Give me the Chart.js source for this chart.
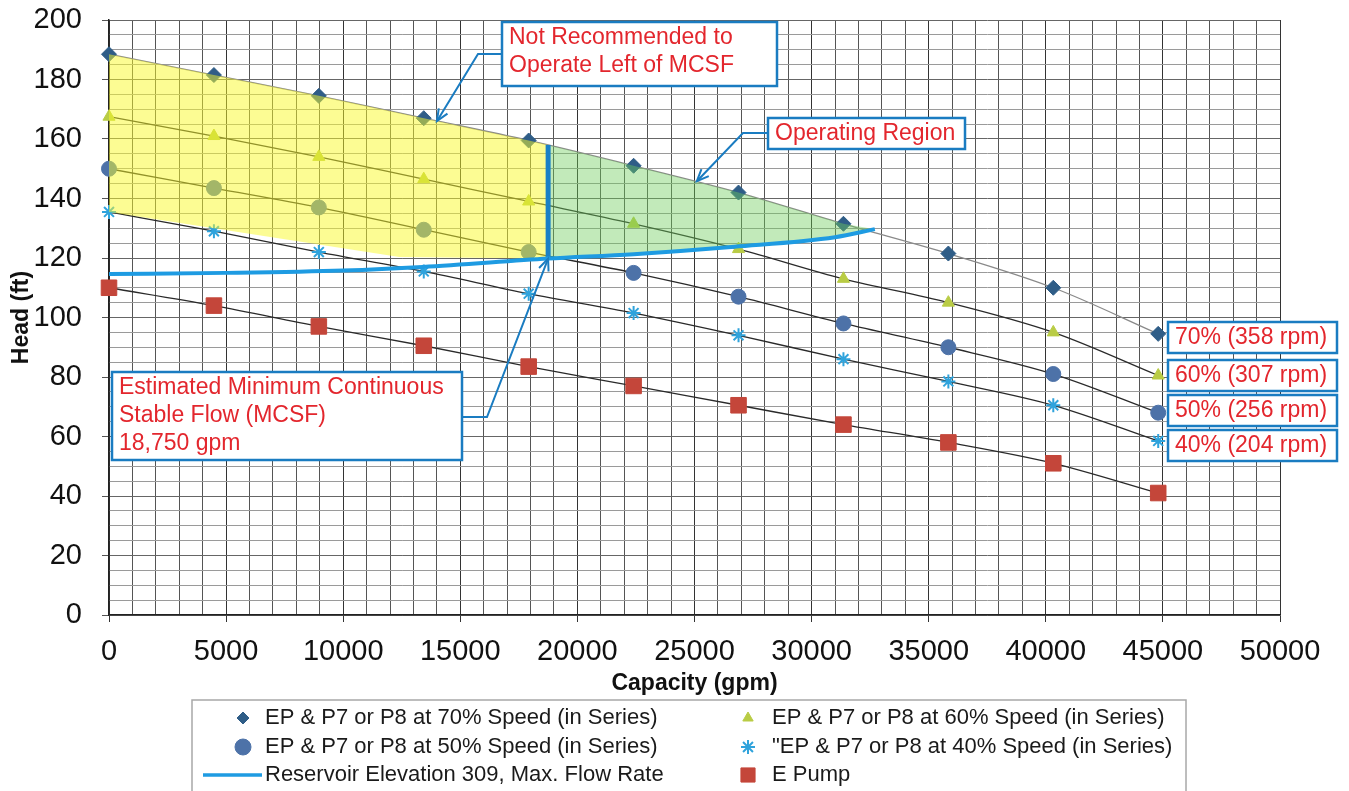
<!DOCTYPE html>
<html>
<head>
<meta charset="utf-8">
<script src="https://cdn.jsdelivr.net/npm/chart.js@4.4.1/dist/chart.umd.min.js"></script>
<style>
  html, body { margin: 0; padding: 0; background: #fff; }
  #wrap { position: relative; width: 1349px; height: 791px; }
</style>
</head>
<body>
<div id="wrap"><canvas id="chart" width="1349" height="791"></canvas></div>
<script>
// capacity points (gpm) shared by all pump curves
const capacity = [0, 4480, 8960, 13440, 17920, 22400, 26880, 31360, 35840, 40320, 44800];
const head70 = [188.5, 181.5, 174.5, 167, 159.5, 151, 142, 131.5, 121.5, 110, 94.5];
const head60 = [167.5, 161, 154, 146.5, 139, 131.5, 123, 113, 105, 95, 80.5];
const head50 = [150, 143.5, 137, 129.5, 122, 115, 107, 98, 90, 81, 68];
const head40 = [135.5, 129, 122, 115.5, 108, 101.5, 94, 86, 78.5, 70.5, 58.5];
const headE = [110, 104, 97, 90.5, 83.5, 77, 70.5, 64, 58, 51, 41];

// reservoir elevation 309 max flow rate curve
const resGpm = [0, 5000, 10000, 13400, 18750, 22400, 26700, 31000, 32700];
const resHead = [114.6, 115, 115.8, 117, 119.8, 121.3, 123.8, 127, 129.7];

// MCSF and shaded regions
const mcsf = 18750;
const mcsfHead = [119.8, 158];
const yellowTopGpm = [0, 4480, 8960, 13440, 17920, 18750];
const yellowTopHead = [188.5, 181.5, 174.5, 167, 159.5, 158];
const yellowBotGpm = [0, 12400, 18750];
const yellowBotHead = [135.5, 120.3, 119.8];
const greenTopGpm = [18750, 22400, 26880, 31360, 32700];
const greenTopHead = [158, 151, 142, 131.5, 129.7];

const labels70 = "EP & P7 or P8 at 70% Speed (in Series)";
const labels60 = "EP & P7 or P8 at 60% Speed (in Series)";
const labels50 = "EP & P7 or P8 at 50% Speed (in Series)";
const labels40 = "\"EP & P7 or P8 at 40% Speed (in Series)";
const labelRes = "Reservoir Elevation 309, Max. Flow Rate";
const labelE = "E Pump";

const xTicks = { min: 0, max: 50000, step: 1000, major: 5000 };
const yTicks = { min: 0, max: 200, step: 5, major: 20 };

function pts(xs, ys) { return xs.map((v, i) => ({ x: v, y: ys[i] })); }

const RED = "#e3262d";
const BLUE = "#1a7cc1";
const FONT = "'Liberation Sans', Arial, sans-serif";

function series(label, ys, color, style, radius, lineColor) {
  return {
    label: label,
    data: pts(capacity, ys),
    showLine: true,
    clip: false,
    borderColor: lineColor,
    borderWidth: 1.3,
    cubicInterpolationMode: "monotone",
    pointStyle: style,
    pointRadius: radius,
    pointBackgroundColor: color,
    pointBorderColor: color,
    pointBorderWidth: style === "star" ? 2 : 1,
    order: 5
  };
}

const ds = [
  series(labels70, head70, "#2f5d87", "rectRot", 7.5, "#8a8a8a"),
  series(labels60, head60, "#b9cc45", "triangle", 7, "#2a2a2a"),
  series(labels50, head50, "#4d72a8", "circle", 7.5, "#2a2a2a"),
  series(labels40, head40, "#2fa3dc", "star", 7, "#2a2a2a"),
  series(labelE, headE, "#c4463a", "rect", 11, "#2a2a2a"),
  { // yellow: not recommended region
    data: pts(yellowTopGpm, yellowTopHead), showLine: true, pointRadius: 0,
    borderWidth: 0, borderColor: "rgba(0,0,0,0)", fill: "+1",
    backgroundColor: "rgba(250,250,40,0.5)", order: 2
  },
  {
    data: pts(yellowBotGpm, yellowBotHead), showLine: true, pointRadius: 0,
    borderWidth: 0, borderColor: "rgba(0,0,0,0)", order: 2
  },
  { // green: operating region
    data: pts(greenTopGpm, greenTopHead), showLine: true, pointRadius: 0,
    borderWidth: 0, borderColor: "rgba(0,0,0,0)", fill: "+1",
    backgroundColor: "rgba(110,205,90,0.42)", order: 2
  },
  {
    label: labelRes,
    data: pts(resGpm, resHead), showLine: true, pointRadius: 0,
    borderWidth: 4, borderColor: "#1e9be2", cubicInterpolationMode: "monotone", order: 1
  },
  { // MCSF vertical
    data: pts([mcsf, mcsf], mcsfHead), showLine: true, pointRadius: 0,
    borderWidth: 5, borderColor: "#1a80c6", order: 1
  }
];

// text boxes and callouts (pixel layout, arrow tips in data units)
const notes = [
  { box: [502, 22, 275, 64], lines: ["Not Recommended to", "Operate Left of MCSF"], path: [[502, 54], [478, 54]], tip: [14000, 166] },
  { box: [768, 118, 197, 31], lines: ["Operating Region"], path: [[768, 133], [743, 133]], tip: [25100, 145.8] },
  { box: [112, 372, 350, 88], lines: ["Estimated Minimum Continuous", "Stable Flow (MCSF)", "18,750 gpm"], path: [[462, 417], [487, 417]], tip: [18750, 119.8] },
  { box: [1168, 322, 169, 31], lines: ["70% (358 rpm)"] },
  { box: [1168, 360, 169, 31], lines: ["60% (307 rpm)"] },
  { box: [1168, 395, 169, 31], lines: ["50% (256 rpm)"] },
  { box: [1168, 430, 169, 31], lines: ["40% (204 rpm)"] }
];

const annotate = {
  id: "annotate",
  afterDatasetsDraw(chart) {
    const { ctx, scales: { x, y } } = chart;
    ctx.save();
    notes.forEach(n => {
      const [bx, by, bw, bh] = n.box;
      if (n.tip) {
        const tx = x.getPixelForValue(n.tip[0]);
        const ty = y.getPixelForValue(n.tip[1]);
        const p = n.path;
        ctx.strokeStyle = BLUE;
        ctx.lineWidth = 2;
        ctx.beginPath();
        ctx.moveTo(p[0][0], p[0][1]);
        for (let i = 1; i < p.length; i++) ctx.lineTo(p[i][0], p[i][1]);
        ctx.lineTo(tx, ty);
        ctx.stroke();
        const last = p[p.length - 1];
        const a = Math.atan2(ty - last[1], tx - last[0]);
        ctx.beginPath();
        ctx.moveTo(tx - 13 * Math.cos(a - 0.4), ty - 13 * Math.sin(a - 0.4));
        ctx.lineTo(tx, ty);
        ctx.lineTo(tx - 13 * Math.cos(a + 0.4), ty - 13 * Math.sin(a + 0.4));
        ctx.stroke();
      }
      ctx.fillStyle = "#fff";
      ctx.fillRect(bx, by, bw, bh);
      ctx.strokeStyle = BLUE;
      ctx.lineWidth = 2.5;
      ctx.strokeRect(bx, by, bw, bh);
      ctx.fillStyle = RED;
      ctx.font = "23px " + FONT;
      ctx.textBaseline = "middle";
      ctx.textAlign = "left";
      n.lines.forEach((t, i) => ctx.fillText(t, bx + 7, by + 15.5 + i * 28));
    });
    ctx.restore();
  },
  afterDraw(chart) {
    // legend box, two columns
    const { ctx } = chart;
    const d = chart.data.datasets;
    const items = [
      [d[0], 243, 265, 718, 6], [d[1], 748, 772, 718, 6],
      [d[2], 243, 265, 747, 8], [d[3], 748, 772, 747, 7],
      [d[8], 232, 265, 775, 0], [d[4], 748, 772, 775, 10]
    ];
    ctx.save();
    ctx.strokeStyle = "#a8a8a8";
    ctx.lineWidth = 1.5;
    ctx.strokeRect(192, 700, 994, 92);
    ctx.font = "22px " + FONT;
    ctx.textBaseline = "middle";
    items.forEach(([s, mx, tx, ty, r]) => {
      if (r === 0) {
        ctx.strokeStyle = s.borderColor;
        ctx.lineWidth = 3.5;
        ctx.beginPath();
        ctx.moveTo(203, ty);
        ctx.lineTo(262, ty);
        ctx.stroke();
      } else {
        ctx.fillStyle = s.pointBackgroundColor;
        ctx.strokeStyle = s.pointBorderColor;
        ctx.lineWidth = s.pointBorderWidth;
        Chart.helpers.drawPoint(ctx, { pointStyle: s.pointStyle, radius: r, rotation: 0, borderWidth: s.pointBorderWidth }, mx, ty);
      }
      ctx.fillStyle = "#1a1a1a";
      ctx.fillText(s.label, tx, ty);
    });
    ctx.restore();
  }
};

new Chart(document.getElementById("chart"), {
  type: "scatter",
  data: { datasets: ds },
  options: {
    responsive: false,
    animation: false,
    layout: { padding: { top: 20, right: 69, bottom: 0, left: 0 } },
    plugins: {
      legend: { display: false },
      tooltip: { enabled: false }
    },
    scales: {
      x: {
        type: "linear",
        min: xTicks.min,
        max: xTicks.max,
        afterFit: s => { s.height = 176; },
        ticks: {
          stepSize: xTicks.step,
          autoSkip: false,
          maxRotation: 0,
          padding: 13,
          color: "#111",
          font: { family: FONT, size: 29 },
          callback: v => (v % xTicks.major === 0 ? String(v) : "")
        },
        grid: {
          tickLength: 7,
          color: c => (c.tick && c.tick.value % xTicks.major === 0 ? "#333" : "#555"),
          tickColor: c => (c.tick && c.tick.value % xTicks.major === 0 ? "#333" : "rgba(0,0,0,0)")
        },
        border: { color: "#222", width: 1.5 },
        title: {
          display: true,
          text: "Capacity (gpm)",
          color: "#111",
          font: { family: FONT, size: 23, weight: "bold" },
          padding: { top: 0, bottom: 94 }
        }
      },
      y: {
        min: yTicks.min,
        max: yTicks.max,
        afterFit: s => { s.width = 109; s.paddingTop = 0; s.paddingBottom = 0; },
        ticks: {
          stepSize: yTicks.step,
          autoSkip: false,
          padding: 20,
          color: "#111",
          font: { family: FONT, size: 29 },
          callback: v => (v % yTicks.major === 0 ? String(v) : "")
        },
        grid: {
          tickLength: 7,
          color: c => (c.tick && c.tick.value % yTicks.major === 0 ? "#666" : "#9a9a9a"),
          tickColor: c => (c.tick && c.tick.value % yTicks.major === 0 ? "#555" : "rgba(0,0,0,0)")
        },
        border: { color: "#222", width: 1.5 },
        title: {
          display: true,
          text: "Head (ft)",
          color: "#111",
          font: { family: FONT, size: 23, weight: "bold" },
          padding: { top: 8, bottom: 0 }
        }
      }
    }
  },
  plugins: [annotate]
});
</script>
</body>
</html>
